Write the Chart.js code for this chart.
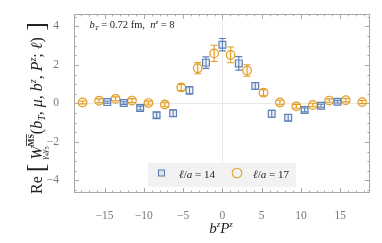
<!DOCTYPE html>
<html><head><meta charset="utf-8">
<script src="https://cdn.jsdelivr.net/npm/chart.js@4"></script>
<style>html,body{margin:0;padding:0;background:#fff}</style>
</head><body>
<canvas id="c" width="382" height="243" style="width:382px;height:243px;display:block"></canvas>
<script>
// ---- data ----
const label14 = 'ℓ/a = 14';
const label17 = 'ℓ/a = 17';
const x14 = [-14.66,-12.57,-10.47,-8.38,-6.28,-4.19,-2.09,0,2.09,4.19,6.28,8.38,10.47,12.57,14.66];
const y14 = [0.07,0.02,-0.24,-0.61,-0.51,0.68,2.12,3.05,2.08,0.91,-0.54,-0.74,-0.34,-0.12,0.09];
const e14 = [0.06,0.07,0.10,0.15,0.17,0.20,0.30,0.32,0.35,0.18,0.18,0.17,0.10,0.08,0.07];
const x17 = [-17.8,-15.71,-13.61,-11.52,-9.42,-7.33,-5.24,-3.14,-1.05,1.05,3.14,5.24,7.33,9.42,11.52,13.61,15.71,17.8];
const y17 = [0.05,0.14,0.24,0.15,0.02,-0.05,0.83,1.83,2.60,2.52,1.71,0.56,0.05,-0.15,-0.08,0.15,0.17,0.07];
const e17 = [0.08,0.10,0.10,0.10,0.10,0.12,0.16,0.29,0.42,0.41,0.30,0.16,0.12,0.10,0.09,0.09,0.09,0.08];
const xTicksMajor = [-15,-10,-5,0,5,10,15];
const yTicksMajor = [-4,-2,0,2,4];

const BLUE = '#5e81b5', ORANGE = '#e19c24';
const SERIF = '"Liberation Serif", "DejaVu Serif", serif';
const FRAME = '#a9a9a9';

function pts(xs, ys){ return xs.map((x,i)=>({x:x, y:ys[i]})); }

// segments: {t, f, dy, over, stack}; stack -> drawn at the start of the previous group
function drawRich(ctx, segs, cx, cy){
  let x = 0, groupStart = 0, groupEnd = 0, stackX = null;
  const layout = [];
  segs.forEach(s=>{
    ctx.font = s.f;
    const w = ctx.measureText(s.t).width;
    let sx;
    if (s.stack === 'begin'){ stackX = groupStart; sx = stackX; stackX += w; }
    else if (s.stack === 'cont'){ sx = stackX; stackX += w; }
    else {
      if (stackX !== null){ x = Math.max(groupEnd, stackX); stackX = null; }
      sx = x;
      if (!s.keepGroup){ groupStart = x; }
      x += w; groupEnd = x;
    }
    if (stackX !== null) x = Math.max(groupEnd, stackX);
    layout.push({s, sx, w});
  });
  const total = x;
  layout.forEach(({s, sx, w})=>{
    ctx.font = s.f;
    const px = cx - total/2 + sx, py = cy + (s.dy||0);
    ctx.fillText(s.t, px, py);
    if (s.over){
      ctx.save(); ctx.lineWidth = 0.8; ctx.strokeStyle = ctx.fillStyle;
      ctx.beginPath(); ctx.moveTo(px, py - s.over); ctx.lineTo(px + w, py - s.over); ctx.stroke();
      ctx.restore();
    }
  });
}

const decor = {
  id: 'decor',
  beforeDatasetsDraw(chart){
    const {ctx, chartArea:a, scales:{x, y}} = chart;
    ctx.save();
    ctx.strokeStyle = '#e8e8e8'; ctx.lineWidth = 1;
    const x0 = Math.round(x.getPixelForValue(0)) + 0.5, y0 = Math.round(y.getPixelForValue(0)) + 0.5;
    ctx.beginPath();
    ctx.moveTo(x0, a.top); ctx.lineTo(x0, a.bottom);
    ctx.moveTo(a.left, y0); ctx.lineTo(a.right, y0);
    ctx.stroke();
    // error bars
    const bars = [[x14,y14,e14,BLUE],[x17,y17,e17,ORANGE]];
    bars.forEach(([xs,ys,es,col])=>{
      ctx.strokeStyle = col; ctx.lineWidth = 1.1;
      xs.forEach((xv,i)=>{
        const px = x.getPixelForValue(xv);
        const pt = y.getPixelForValue(ys[i]+es[i]);
        const pb = y.getPixelForValue(ys[i]-es[i]);
        ctx.beginPath();
        ctx.moveTo(px, pt); ctx.lineTo(px, pb);
        ctx.moveTo(px-3.5, pt); ctx.lineTo(px+3.5, pt);
        ctx.moveTo(px-3.5, pb); ctx.lineTo(px+3.5, pb);
        ctx.stroke();
      });
    });
    ctx.restore();
  },
  afterDraw(chart){
    const {ctx, chartArea:a, scales:{x, y}} = chart;
    ctx.save();
    // frame
    ctx.strokeStyle = FRAME; ctx.lineWidth = 1;
    ctx.strokeRect(Math.round(a.left)+0.5, Math.round(a.top)+0.5, Math.round(a.right-a.left)-1, Math.round(a.bottom-a.top)-1);
    ctx.beginPath();
    for (let v = Math.ceil(x.min); v <= Math.floor(x.max); v++){
      const len = (v % 5 === 0) ? 5 : 2.5;
      const px = Math.round(x.getPixelForValue(v)) + 0.5;
      ctx.moveTo(px, a.bottom); ctx.lineTo(px, a.bottom - len);
      ctx.moveTo(px, a.top); ctx.lineTo(px, a.top + len);
    }
    for (let v = Math.ceil(y.min*2)/2; v <= y.max; v += 0.5){
      const len = (Math.abs(v % 2) < 1e-9) ? 5 : 2.5;
      const py = Math.round(y.getPixelForValue(v)) + 0.5;
      ctx.moveTo(a.left, py); ctx.lineTo(a.left + len, py);
      ctx.moveTo(a.right, py); ctx.lineTo(a.right - len, py);
    }
    ctx.stroke();

    // annotation
    ctx.fillStyle = '#222'; ctx.textBaseline = 'alphabetic';
    ctx.textAlign = 'left';
    const it = 'italic 10.5px ' + SERIF, rm = '10.5px ' + SERIF, sm = 'italic 7px ' + SERIF;
    const ann = [
      {t:'b', f:it},{t:'T', f:sm, dy:2.5},{t:' = 0.72 fm,  ', f:rm},{t:'n', f:it},{t:'z', f:sm, dy:-4},{t:' = 8', f:rm}
    ];
    drawRich(ctx, ann, 132, 27.5);

    // legend
    ctx.fillStyle = '#f2f2f2';
    ctx.fillRect(148, 163, 148, 24);
    ctx.lineWidth = 1.1;
    ctx.strokeStyle = BLUE; ctx.fillStyle = 'rgba(94,129,181,0.12)';
    ctx.fillRect(158.5, 170, 6, 6); ctx.strokeRect(158.5, 170, 6, 6);
    ctx.strokeStyle = ORANGE;
    ctx.beginPath(); ctx.arc(237, 173, 4.8, 0, Math.PI*2); ctx.stroke();
    ctx.fillStyle = '#222';
    const li = 'italic 11px ' + SERIF, lr = '11px ' + SERIF;
    drawRich(ctx, [{t:'ℓ', f:li},{t:'/', f:lr},{t:'a', f:li},{t:' = 14', f:lr}], 197, 177.5);
    drawRich(ctx, [{t:'ℓ', f:li},{t:'/', f:lr},{t:'a', f:li},{t:' = 17', f:lr}], 271, 177.5);

    // x title
    const xt = 'italic 15px ' + SERIF, xs = 'italic 9px ' + SERIF;
    drawRich(ctx, [{t:'b', f:xt},{t:'z', f:xs, dy:-6},{t:'P', f:xt},{t:'z', f:xs, dy:-6}], 221, 233);

    // y title (rotated)
    ctx.translate(42, 108);
    ctx.rotate(-Math.PI/2);
    const B = 16;
    const R = B+'px '+SERIF, I = 'italic '+B+'px '+SERIF, SI = 'italic 10px '+SERIF;
    const ysg = [
      {t:'Re ', f:R},
      {t:'[', f:'26px '+SERIF, dy:2},
      {t:' ', f:R},
      {t:'W', f:I},
      {t:'MS', f:'bold 8px '+SERIF, dy:-8, over:7.5, keepGroup:true},
      {t:'γ', f:'italic 8.5px '+SERIF, dy:4.5, stack:'begin'},
      {t:'4', f:'6.5px '+SERIF, dy:6.5, stack:'cont'},
      {t:'γ', f:'italic 8.5px '+SERIF, dy:4.5, stack:'cont'},
      {t:'5', f:'6.5px '+SERIF, dy:6.5, stack:'cont'},
      {t:'(', f:R},{t:'b', f:I},{t:'T', f:SI, dy:3},{t:', ', f:R},{t:'μ', f:I},{t:', ', f:R},
      {t:'b', f:I},{t:'z', f:SI, dy:-6.5},{t:', ', f:R},{t:'P', f:I},{t:'z', f:SI, dy:-6.5},{t:'; ', f:R},{t:'ℓ', f:I},{t:')', f:R},
      {t:' ]', f:'26px '+SERIF, dy:2}
    ];
    drawRich(ctx, ysg, 0, 0);
    ctx.restore();
  }
};

const fmt = v => (v < 0 ? '\u2212' + Math.abs(v) : String(v));

new Chart(document.getElementById('c'), {
  type: 'scatter',
  data: {
    datasets: [
      {label: label14, data: pts(x14, y14), pointStyle: 'rect', pointRadius: 4.8, pointHoverRadius: 4.8,
       borderColor: BLUE, backgroundColor: 'rgba(94,129,181,0.12)', pointBorderWidth: 1.2},
      {label: label17, data: pts(x17, y17), pointStyle: 'circle', pointRadius: 4.3, pointHoverRadius: 4.3,
       borderColor: ORANGE, backgroundColor: 'rgba(225,156,36,0.08)', pointBorderWidth: 1.2}
    ]
  },
  options: {
    responsive: false, animation: false, devicePixelRatio: 1,
    layout: {padding: {top: 10, right: 12, left: 0, bottom: 0}},
    plugins: {legend: {display: false}, tooltip: {enabled: false}},
    scales: {
      x: {
        type: 'linear', min: -18.9, max: 18.8,
        grid: {display: false}, border: {display: false},
        afterFit(s){ s.height = 50; },
        afterBuildTicks(s){ s.ticks = xTicksMajor.map(v=>({value:v})); },
        ticks: {includeBounds: false, padding: 8, color: '#777', font: {family: SERIF, size: 11.5},
                callback: fmt, maxRotation: 0, autoSkip: false}
      },
      y: {
        type: 'linear', min: -4.65, max: 4.65,
        grid: {display: false}, border: {display: false},
        afterFit(s){ s.width = 74; },
        afterBuildTicks(s){ s.ticks = yTicksMajor.map(v=>({value:v})); },
        ticks: {includeBounds: false, padding: 7, color: '#777', font: {family: SERIF, size: 11.5},
                callback: fmt, autoSkip: false}
      }
    }
  },
  plugins: [decor]
});
</script>
</body></html>
